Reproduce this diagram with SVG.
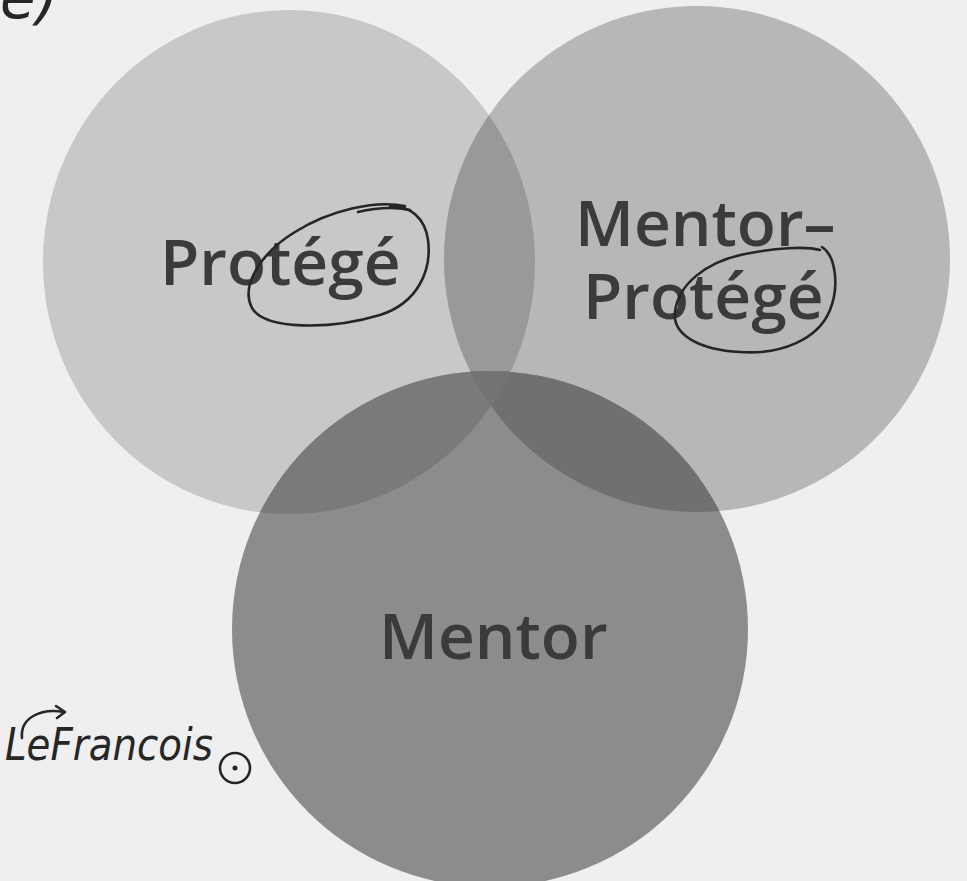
<svg xmlns="http://www.w3.org/2000/svg" width="967" height="881" viewBox="0 0 967 881">
  <style>
    .label { font-family: "Open Sans", "Liberation Sans", sans-serif; font-weight: 600; font-size: 64px; fill: #3b3b3b; }
    .pen { fill: none; stroke: #262626; stroke-width: 2.6; stroke-linecap: round; stroke-linejoin: round; }
    .hand { font-family: "DejaVu Sans", "Liberation Sans", sans-serif; font-style: italic; fill: #262626; }
  </style>
  <defs>
    <ellipse id="cL" cx="289" cy="262" rx="246" ry="252"/>
    <circle id="cR" cx="697" cy="259" r="253"/>
    <circle id="cB" cx="490" cy="629" r="258"/>
    <clipPath id="clipR"><use href="#cR"/></clipPath>
    <clipPath id="clipB"><use href="#cB"/></clipPath>
  </defs>

  <rect x="0" y="0" width="967" height="881" fill="#efefef"/>

  <g id="node-protege">
    <use href="#cL" fill="#c8c8c8"/>
  </g>
  <g id="node-mentor-protege">
    <use href="#cR" fill="#b7b7b7"/>
  </g>
  <g id="overlap-protege-mentorprotege" clip-path="url(#clipR)">
    <use href="#cL" fill="#999999"/>
  </g>
  <g id="node-mentor">
    <use href="#cB" fill="#8c8c8c"/>
  </g>
  <g id="overlaps-mentor" clip-path="url(#clipB)">
    <use href="#cL" fill="#7a7a7a"/>
    <use href="#cR" fill="#707070"/>
    <g clip-path="url(#clipR)">
      <use href="#cL" fill="#747474"/>
    </g>
  </g>

  <g id="labels">
    <text class="label" x="160" y="285">Protégé</text>
    <text class="label" x="575" y="246">Mentor–</text>
    <text class="label" x="583" y="319">Protégé</text>
    <text class="label" x="379" y="659">Mentor</text>
  </g>

  <g id="connectors"></g>

  <g id="annotations">
    <path class="pen" d="M 405,206 C 375,200 330,210 295,232 C 262,252 240,285 252,308 C 265,330 330,330 380,315 C 418,303 432,270 428,240 C 425,218 410,205 390,207"/>
    <path class="pen" d="M 358,212 C 375,208 395,207 410,210"/>
    <path class="pen" d="M 822,247 C 835,255 840,285 830,310 C 818,340 780,355 740,352 C 700,350 672,335 675,312 C 678,285 705,262 745,254 C 775,248 805,246 820,250"/>
    <text class="hand" x="0" y="18" font-size="58">e)</text>
    <path class="pen" d="M 22,738 C 20,718 40,708 64,712"/>
    <path class="pen" d="M 56,706 L 65,712 L 57,718"/>
    <text class="hand" x="5" y="760" font-size="44" textLength="208" lengthAdjust="spacingAndGlyphs">LeFrancois</text>
    <circle class="pen" cx="235" cy="768" r="15"/>
    <circle cx="235" cy="768" r="2.5" fill="#262626"/>
  </g>
</svg>
